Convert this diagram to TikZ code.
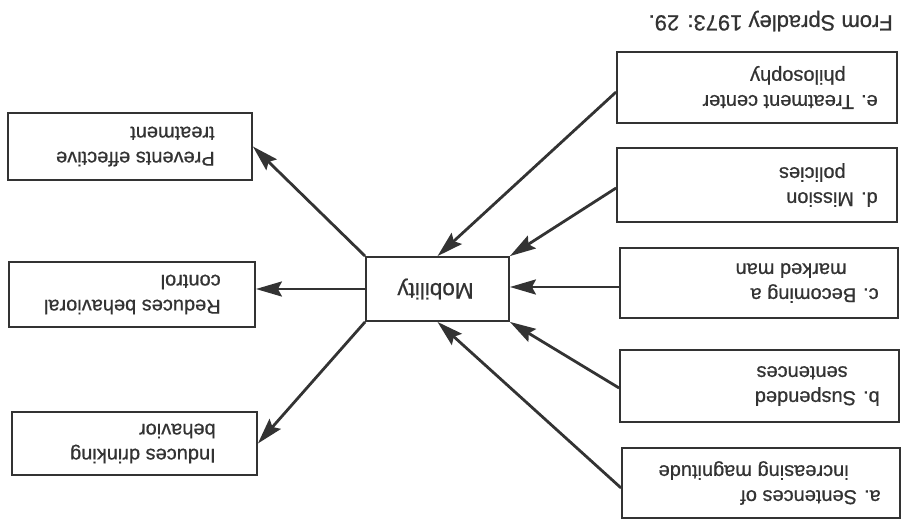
\documentclass[tikz,border=0pt]{standalone}
\usepackage{fontspec}
\setmainfont{Liberation Sans}[FakeBold=0.7]
\usetikzlibrary{arrows.meta}
\definecolor{ink}{HTML}{333333}
\newcommand{\lab}[3]{#1\hspace*{7pt}#2\\\hspace*{32pt}#3}
\begin{document}
\begin{tikzpicture}[x=1pt,y=-1pt,
  box/.style={draw=ink, line width=1.8pt, inner sep=0pt},
  lbl/.style={rotate=180, anchor=west, inner sep=0pt, text=ink, font=\fontsize{20}{25}\selectfont, align=left},
  arr/.style={draw=ink, line width=2.8pt, -{Stealth[length=26pt,width=15pt,inset=4pt]}}]
\useasboundingbox (0,0) rectangle (903,520);
% left boxes
\node[box, minimum width=244pt, minimum height=67pt] (prev) at (130,146.5) {};
\node[box, minimum width=246pt, minimum height=65pt] (red) at (132,294.5) {};
\node[box, minimum width=245pt, minimum height=63pt] (ind) at (134.5,443.5) {};
% centre
\node[box, minimum width=143pt, minimum height=64pt] (mob) at (437.5,289) {};
% right boxes
\node[box, minimum width=280pt, minimum height=71pt] (e) at (757,87.5) {};
\node[box, minimum width=280pt, minimum height=74pt] (d) at (757,185) {};
\node[box, minimum width=278pt, minimum height=70pt] (c) at (759,283) {};
\node[box, minimum width=279pt, minimum height=72pt] (b) at (759.5,386) {};
\node[box, minimum width=278pt, minimum height=70pt] (a) at (761,483) {};
% labels
\node[lbl] (tprev) at ([xshift=-38pt]prev.east) {Prevents effective\\treatment};
\node[lbl] (tred) at ([xshift=-35pt]red.east) {Reduces behavioral\\control};
\node[lbl] (tind) at ([xshift=-42pt]ind.east) {Induces drinking\\behavior};
\node[lbl, anchor=center, font=\fontsize{22.5}{26}\selectfont] (tmob) at ([xshift=-2pt]mob.center) {Mobility};
\node[lbl] (te) at ([xshift=-20pt]e.east) {\lab{e.}{Treatment center}{philosophy}};
\node[lbl] (td) at ([xshift=-20pt]d.east) {\lab{d.}{Mission}{policies}};
\node[lbl] (tc) at ([xshift=-20pt]c.east) {\lab{c.}{Becoming a}{marked man}};
\node[lbl] (tb) at ([xshift=-20pt]b.east) {\lab{b.}{Suspended}{sentences}};
\node[lbl] (ta) at ([xshift=-20pt]a.east) {\lab{a.}{Sentences of}{increasing magnitude}};
\node[lbl, font=\fontsize{22}{26}\selectfont] (src) at (893,21) {From Spradley 1973: 29.};
% connectors
\draw[arr] ([yshift=-4.5pt]e.west) -- (mob.north);
\draw[arr] ([yshift=-3pt]d.west) -- (mob.north east);
\draw[arr] ([yshift=-4pt]c.west) -- ([yshift=-4pt]c.west -| mob.east);
\draw[arr] ([yshift=-2pt]b.west) -- (mob.south east);
\draw[arr] ([yshift=-5pt]a.west) -- (mob.south);
\draw[arr] (mob.north west) -- (prev.east);
\draw[arr] (mob.west) -- (mob.west -| red.east);
\draw[arr] (mob.south west) -- (ind.east);
\end{tikzpicture}
\end{document}
